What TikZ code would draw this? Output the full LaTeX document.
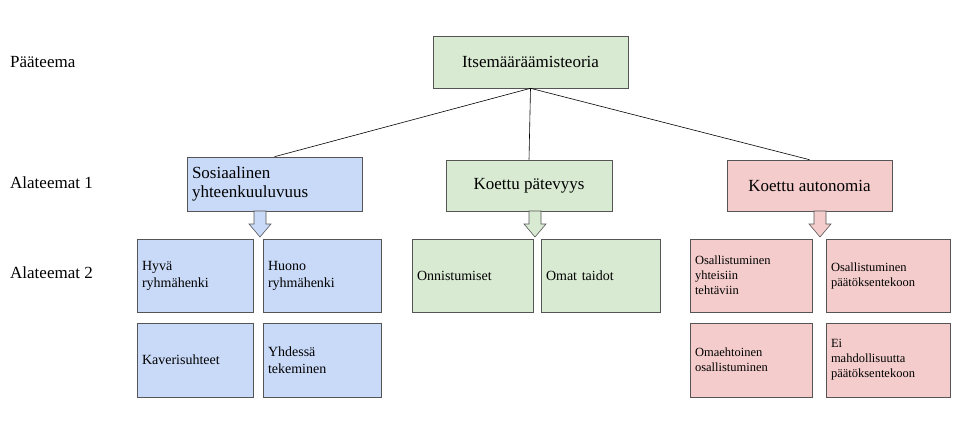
\documentclass[tikz,border=0pt]{standalone}
\usepackage{fontspec}
\setmainfont{Liberation Serif}
\definecolor{gr}{HTML}{D9EAD3}
\definecolor{bl}{HTML}{C9DAF8}
\definecolor{pk}{HTML}{F4CCCC}
\definecolor{bd}{HTML}{555555}
\begin{document}
\begin{tikzpicture}[x=1pt,y=-1pt,
 box/.style={draw=bd,line width=0.6pt,inner sep=0pt},
 big/.style={box,font=\fontsize{17}{19}\selectfont,align=left},
 small/.style={box,font=\fontsize{14}{17}\selectfont,align=left,text width=#1},
 tiny/.style={box,font=\fontsize{12.5}{15}\selectfont,align=left,text width=#1},
 lab/.style={font=\fontsize{17}{19}\selectfont,anchor=west,inner sep=0pt},
 conn/.style={draw=black,line width=0.6pt},
 barr/.style={draw=bd,line width=0.6pt}]
\useasboundingbox (0,0) rectangle (973,434);
\node[lab] (p0) at (10,62) {Pääteema};
\node[lab] (p1) at (10,183) {Alateemat 1};
\node[lab] (p2) at (10,273) {Alateemat 2};
\node[big,fill=gr,minimum width=195,minimum height=52] (top) at (530.5,62) {Itsemääräämisteoria};
\node[big,fill=bl,minimum width=175,minimum height=54,text width=165] (s) at (274.5,184) {Sosiaalinen\\yhteenkuuluvuus};
\node[big,fill=gr,minimum width=166,minimum height=51] (k) at (529,185.5) {Koettu pätevyys};
\node[big,fill=pk,minimum width=165,minimum height=51] (a) at (809.5,185.5) {Koettu autonomia};
\draw[conn] (top.south) -- (s.north);
\draw[conn] (top.south) -- (k.north);
\draw[conn] (top.south) -- (a.north);
% block arrows
\foreach \cx/\c/\n in {260/bl/s,535/gr/k,820/pk/a}{
 \draw[barr,fill=\c] (\cx-6,211) -- (\cx+6,211) -- (\cx+6,224) -- (\cx+11,224) -- (\cx,237) -- (\cx-11,224) -- (\cx-6,224) -- cycle;}
\node[small=106,fill=bl,minimum width=116,minimum height=73] (b1) at (195,275.5) {Hyvä\\ryhmähenki};
\node[small=108,fill=bl,minimum width=118,minimum height=73] (b2) at (322,275.5) {Huono\\ryhmähenki};
\node[small=106,fill=bl,minimum width=116,minimum height=74] (b3) at (195,360) {Kaverisuhteet};
\node[small=108,fill=bl,minimum width=118,minimum height=74] (b4) at (322,360) {Yhdessä\\tekeminen};
\node[small=111,fill=gr,minimum width=121,minimum height=73] (g1) at (472.5,275.5) {Onnistumiset};
\node[small=109,fill=gr,minimum width=119,minimum height=73] (g2) at (600.5,275.5) {Omat taidot};
\node[tiny=112,fill=pk,minimum width=122,minimum height=73] (r1) at (751,275.5) {Osallistuminen\\yhteisiin\\tehtäviin};
\node[tiny=114,fill=pk,minimum width=124,minimum height=73] (r2) at (888,275.5) {Osallistuminen\\päätöksentekoon};
\node[tiny=112,fill=pk,minimum width=122,minimum height=74] (r3) at (751,360) {Omaehtoinen\\osallistuminen};
\node[tiny=114,fill=pk,minimum width=124,minimum height=74] (r4) at (888,360) {Ei\\mahdollisuutta\\päätöksentekoon};
\end{tikzpicture}
\end{document}
